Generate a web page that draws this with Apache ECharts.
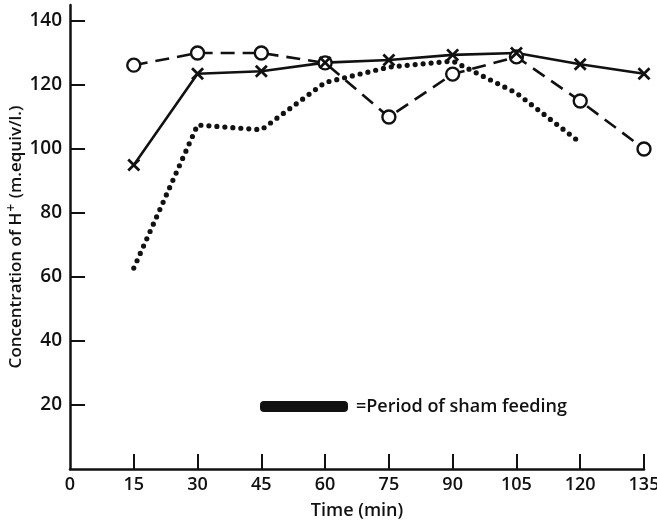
<!DOCTYPE html>
<html>
<head>
<meta charset="utf-8">
<script src="https://cdn.jsdelivr.net/npm/echarts@6/dist/echarts.min.js"></script>
<style>
  html, body { margin: 0; padding: 0; background: #fff; }
  #chart { width: 657px; height: 528px; }
</style>
</head>
<body>
<div id="chart"></div>
<script>
// sampling times (min)
var times = [15, 30, 45, 60, 75, 90, 105, 120, 135];
// crosses, solid line
var crossVals = [95, 123.5, 124.3, 127, 127.8, 129.4, 130, 126.5, 123.5];
// open circles, dashed line
var circleVals = [126.2, 130, 130, 126.9, 110, 123.4, 128.8, 115, 100];
// dotted line (15 to 120 min)
var dotTimes = [15, 30, 45, 60, 75, 90, 105, 120];
var dotVals = [62.8, 107.5, 106, 120.8, 125.6, 127.5, 117.5, 102];

var xTicks = [15, 30, 45, 60, 75, 90, 105, 120, 135];
var xLabels = [0, 15, 30, 45, 60, 75, 90, 105, 120, 135];
var yTicks = [20, 40, 60, 80, 100, 120, 140];

var textFont = '"Open Sans", "DejaVu Sans", sans-serif';

function pairs(xs, ys) {
    return xs.map(function (x, i) { return [x, ys[i]]; });
}

var crossPath = 'path://M0,1.5L1.5,0L5,3.5L8.5,0L10,1.5L6.5,5L10,8.5L8.5,10L5,6.5L1.5,10L0,8.5L3.5,5Z';

var chart = echarts.init(document.getElementById('chart'));
chart.setOption({
    animation: false,
    backgroundColor: '#fff',
    grid: { left: 70, right: 13, top: 5, bottom: 59, outerBoundsMode: 'none', containLabel: false },
    xAxis: {
        type: 'value',
        min: 0,
        max: 135,
        interval: 15,
        name: 'Time (min)',
        nameLocation: 'middle',
        nameGap: 33,
        nameMoveOverlap: false,
        nameTextStyle: { fontFamily: textFont, fontSize: 18, fontWeight: 600, color: '#111' },
        axisLine: { lineStyle: { color: '#111', width: 2.5 } },
        axisTick: { inside: true, length: 15, customValues: xTicks, lineStyle: { color: '#111', width: 2 } },
        axisLabel: { customValues: xLabels, margin: 7, fontFamily: textFont, fontSize: 18, fontWeight: 600, color: '#111' },
        splitLine: { show: false }
    },
    yAxis: {
        type: 'value',
        min: 0,
        max: 145,
        name: '{a|Concentration of H}{s|+}{a| (m.equiv/l.)}',
        nameLocation: 'middle',
        nameGap: 42,
        nameMoveOverlap: false,
        nameTextStyle: {
            color: '#111',
            rich: {
                a: { fontFamily: textFont, fontSize: 17, fontWeight: 600, color: '#111' },
                s: { fontFamily: textFont, fontSize: 14, fontWeight: 600, color: '#111', padding: [0, 1, 9, 1] }
            }
        },
        axisLine: { show: true, lineStyle: { color: '#111', width: 2.5 } },
        axisTick: { show: true, inside: true, length: 15, customValues: yTicks, lineStyle: { color: '#111', width: 2 } },
        axisLabel: { customValues: yTicks, margin: 8, fontFamily: textFont, fontSize: 19, fontWeight: 600, color: '#111' },
        splitLine: { show: false }
    },
    series: [
        {
            type: 'line',
            data: pairs(dotTimes, dotVals),
            showSymbol: false,
            symbol: 'none',
            lineStyle: { color: '#111', width: 5.2, type: [0, 8], cap: 'round' }
        },
        {
            type: 'line',
            data: pairs(times, circleVals),
            symbol: 'circle',
            symbolSize: 13,
            itemStyle: { color: '#fff', borderColor: '#111', borderWidth: 2.4 },
            lineStyle: { color: '#111', width: 2.6, type: [14, 8] }
        },
        {
            type: 'line',
            data: pairs(times, crossVals),
            symbol: crossPath,
            symbolSize: 13,
            itemStyle: { color: '#111' },
            lineStyle: { color: '#111', width: 2.6 }
        }
    ],
    graphic: [
        {
            type: 'rect',
            left: 260,
            top: 401,
            shape: { width: 88, height: 11, r: 4 },
            style: { fill: '#111' }
        },
        {
            type: 'text',
            left: 356,
            top: 398,
            style: { text: '=Period of sham feeding', font: '600 18px ' + textFont, fill: '#111' }
        }
    ]
});
</script>
</body>
</html>
